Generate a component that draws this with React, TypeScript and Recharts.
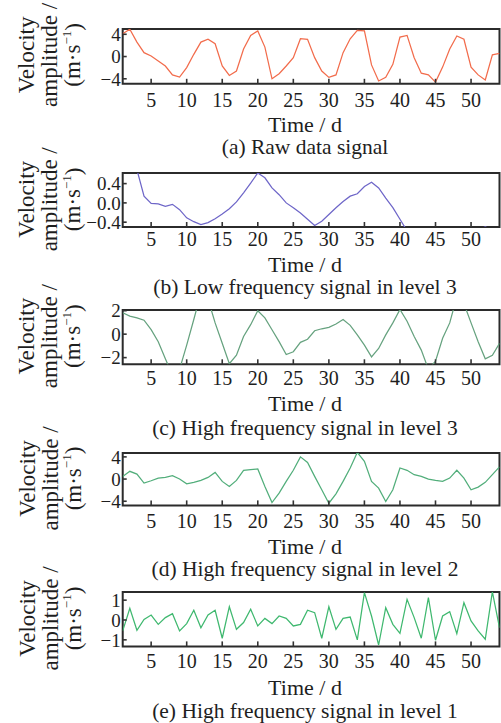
import React from "react";
import { LineChart, Line, XAxis, YAxis, ReferenceArea } from "recharts";

const FONT = "'Liberation Serif', 'Times New Roman', Times, serif";
const INK = "#1e1e1e";

const days = [
  1, 2, 3, 4, 5, 6, 7, 8, 9, 10, 11, 12, 13, 14, 15, 16, 17, 18, 19, 20, 21, 22, 23, 24, 25, 26, 27,
  28, 29, 30, 31, 32, 33, 34, 35, 36, 37, 38, 39, 40, 41, 42, 43, 44, 45, 46, 47, 48, 49, 50, 51, 52, 53, 54,
];
const dayTicks = [5, 10, 15, 20, 25, 30, 35, 40, 45, 50];

// (a) raw data signal
const rawSignal = [
  4.1, 4.9, 2.6, 0.7, 0.1, -0.8, -1.7, -3.3, -3.7, -2.0, 0.4, 2.6, 3.1, 2.3, -1.7, -3.4, -2.6, 1.35,
  3.8, 4.6, 1.7, -4.0, -3.1, -1.7, -0.2, 3.2, 3.1, -0.2, -2.6, -3.75, -3.3, 0.7, 3.2, 4.7, 4.6, -1.5,
  -4.4, -3.75, -1.4, 3.5, 3.8, -0.2, -3.0, -3.3, -4.6, -1.9, 1.35, 3.7, 3.1, -1.9, -3.3, -4.2, 0.3, 0.55,
];
// (b) low frequency, level 3
const lowLevel3 = [
  1.4, 1.0, 0.69, 0.14, -0.01, -0.02, -0.07, -0.03, -0.14, -0.31, -0.39, -0.45, -0.41, -0.33, -0.23,
  -0.12, 0.02, 0.21, 0.41, 0.62, 0.52, 0.31, 0.17, 0.0, -0.1, -0.21, -0.34, -0.47, -0.38, -0.24, -0.1,
  0.03, 0.14, 0.19, 0.34, 0.43, 0.31, 0.1, -0.1, -0.34, -0.58, -0.7, -0.8, -0.85, -0.85, -0.8, -0.75,
  -0.7, -0.65, -0.6, -0.55, -0.5, -0.55, -0.6,
];
// (c) high frequency, level 3
const highLevel3 = [
  1.83, 1.54, 1.39, 1.19, 0.38, -0.64, -2.1, -3.5, -3.0, -0.93, 1.25, 3.5, 3.0, 0.96, -0.78, -2.52,
  -1.8, -0.2, 0.81, 2.0, 1.39, 0.38, -0.64, -1.74, -1.5, -0.7, -0.43, 0.29, 0.46, 0.58, 0.87, 1.25,
  0.75, -0.06, -0.93, -1.94, -1.22, -0.06, 0.96, 2.1, 1.1, -0.2, -1.36, -3.0, -2.3, -0.35, 0.96, 3.2,
  2.6, 0.96, -0.64, -2.1, -1.8, -0.78,
];
// (d) high frequency, level 2
const highLevel2 = [
  0.48, 1.4, 0.9, -0.73, -0.3, 0.18, 0.3, 0.6, 0.0, -0.85, -0.6, -0.24, 0.3, 1.2, -0.42, -1.33, -0.24,
  1.58, 1.7, 1.82, -1.33, -4.24, -2.55, -0.42, 1.58, 4.0, 3.0, 0.48, -1.94, -4.36, -2.67, -0.42, 2.0,
  4.8, 3.2, -0.42, -1.64, -4.06, -1.94, 2.0, 1.58, 0.79, 0.48, 0.0, -0.24, -0.42, 0.18, 1.58, 0.18,
  -1.94, -1.45, -0.6, 0.79, 2.2,
];
// (e) high frequency, level 1
const highLevel1 = [
  -0.55, 0.59, -0.52, 0.03, 0.25, -0.22, 0.12, 0.32, -0.55, -0.18, 0.49, -0.39, 0.25, 0.49, -0.92,
  0.67, -0.47, -0.13, 0.54, -0.3, 0.08, -0.18, 0.2, 0.08, -0.3, -0.22, 0.49, 0.37, -0.92, 0.67, -0.47,
  0.08, 0.15, -1.0, 1.38, 0.2, -1.26, 0.62, -0.22, -0.67, 1.04, 0.12, -0.92, 1.13, -1.02, 0.2, 0.42,
  -0.69, 0.87, -0.05, -0.55, -0.97, 1.42, -0.39,
];

type PanelProps = {
  series: number[];
  color: string;
  top: number;
  bottom: number;
  domain: [number, number];
  ticks: number[];
  decimals: number;
  gap: number;
  title: number;
  caption: number;
  captionText: string;
};

const panels: PanelProps[] = [
  { series: rawSignal, color: "#f26c4c", top: 28.5, bottom: 83.3, domain: [-4.9, 4.95], ticks: [-4, 0, 4], decimals: 0, gap: 10, title: 124.5, caption: 147, captionText: "(a) Raw data signal" },
  { series: lowLevel3, color: "#6e66c8", top: 173.3, bottom: 227.3, domain: [-0.5, 0.62], ticks: [-0.4, 0, 0.4], decimals: 1, gap: 6, title: 264.5, caption: 287, captionText: "(b) Low frequency signal in level 3" },
  { series: highLevel3, color: "#66a27f", top: 310, bottom: 364.3, domain: [-2.57, 2.06], ticks: [-2, 0, 2], decimals: 0, gap: 7.5, title: 403, caption: 428, captionText: "(c) High frequency signal in level 3" },
  { series: highLevel2, color: "#52ae7b", top: 453.3, bottom: 505.7, domain: [-4.75, 4.7], ticks: [-4, 0, 4], decimals: 0, gap: 9.3, title: 546, caption: 569, captionText: "(d) High frequency signal in level 2" },
  { series: highLevel1, color: "#3fb86f", top: 592.3, bottom: 646.7, domain: [-1.33, 1.41], ticks: [-1, 0, 1], decimals: 0, gap: 8.3, title: 687, caption: 711, captionText: "(e) High frequency signal in level 1" },
];

const fmt = (decimals: number) => (v: number) => {
  const s = Math.abs(v) < 1e-9 ? (0).toFixed(decimals) : v.toFixed(decimals);
  return s.replace("-", "\u2212");
};

const xTickStyle = { fill: INK, fontSize: 20, fontFamily: FONT };
const yTickStyle = { fill: INK, fontSize: 19, fontFamily: FONT };

function Panel(p: PanelProps) {
  const mTop = 16;
  const plotH = p.bottom - p.top;
  const data = days.map((d, i) => ({ day: d, v: p.series[i] }));
  return (
    <div style={{ position: "absolute", left: 0, top: p.top - mTop }}>
      <LineChart
        width={501}
        height={mTop + plotH + 32}
        data={data}
        margin={{ top: mTop, right: 1.5, left: 62.7, bottom: 0 }}
        style={{ fontFamily: FONT }}
      >
        <XAxis
          dataKey="day"
          type="number"
          domain={[1, 54]}
          ticks={dayTicks}
          interval={0}
          allowDataOverflow
          axisLine={false}
          height={32}
          tickSize={-5}
          tickMargin={5 + p.gap - 1}
          tickLine={{ stroke: "#333", strokeWidth: 1.6 }}
          tick={xTickStyle}
        />
        <YAxis
          type="number"
          domain={p.domain}
          ticks={p.ticks}
          interval={0}
          allowDataOverflow
          axisLine={false}
          width={60}
          tickSize={-4}
          tickMargin={6}
          tickFormatter={fmt(p.decimals)}
          tickLine={{ stroke: "#333", strokeWidth: 1.6 }}
          tick={yTickStyle}
        />
        <ReferenceArea
          x1={1}
          x2={54}
          y1={p.domain[0]}
          y2={p.domain[1]}
          fill="none"
          stroke="#2b2b2b"
          strokeWidth={2}
          ifOverflow="visible"
        />
        <Line
          type="linear"
          dataKey="v"
          stroke={p.color}
          strokeWidth={1.25}
          dot={false}
          isAnimationActive={false}
        />
      </LineChart>
    </div>
  );
}

function Labels() {
  return (
    <svg width={501} height={723} style={{ position: "absolute", left: 0, top: 0, pointerEvents: "none", fontFamily: FONT }}>
      {panels.map((p, i) => {
        const cy = (p.top + p.bottom) / 2 - 1;
        return (
          <g key={i} fill={INK} fontFamily={FONT}>
            <text x={27} y={cy} fontSize={23} textAnchor="middle" dominantBaseline="central" transform={`rotate(-90 27 ${cy})`}>
              Velocity
            </text>
            <text x={50} y={cy} fontSize={23} textAnchor="middle" dominantBaseline="central" transform={`rotate(-90 50 ${cy})`}>
              amplitude /
            </text>
            <text x={73} y={cy} fontSize={23} textAnchor="middle" dominantBaseline="central" transform={`rotate(-90 73 ${cy})`}>
              (m·s<tspan dy={-7} fontSize={13}>−1</tspan><tspan dy={7}>)</tspan>
            </text>
            <text x={305} y={p.title} fontSize={22} textAnchor="middle" dominantBaseline="central">
              Time / d
            </text>
            <text x={305} y={p.caption} fontSize={21.5} textAnchor="middle" dominantBaseline="central">
              {p.captionText}
            </text>
          </g>
        );
      })}
    </svg>
  );
}

export default function App() {
  return (
    <div style={{ position: "absolute", left: 0, top: 0, width: 501, height: 723, background: "#fff", overflow: "hidden", fontFamily: FONT }}>
      {panels.map((p, i) => (
        <Panel key={i} {...p} />
      ))}
      <Labels />
    </div>
  );
}
